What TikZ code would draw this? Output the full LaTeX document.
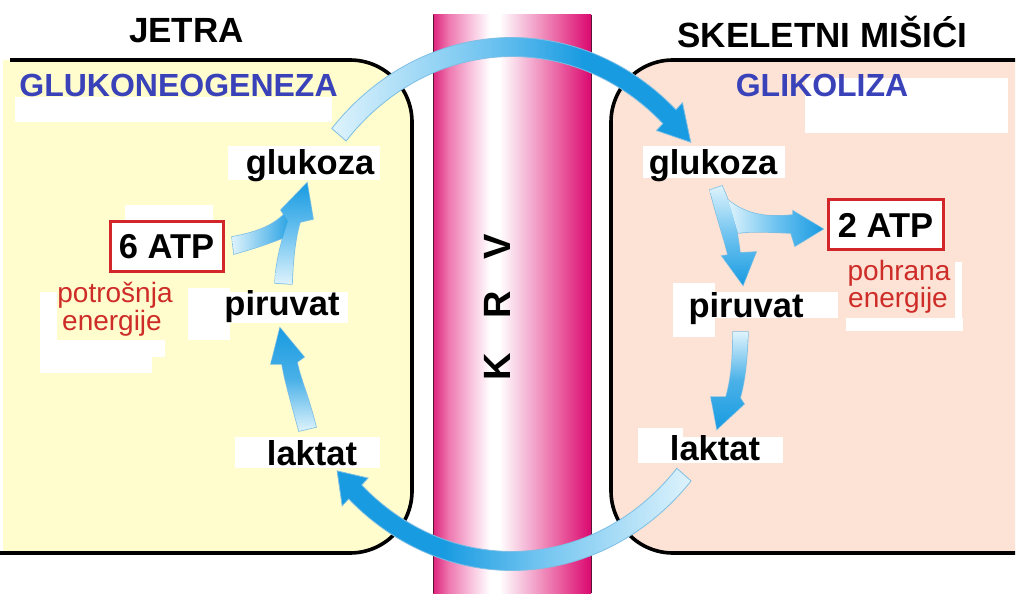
\documentclass[tikz,border=0pt]{standalone}
\usepackage{fontspec}
\setmainfont{Liberation Sans}
\usepackage{graphicx}
\definecolor{liveryel}{RGB}{255,252,206}
\definecolor{musclepink}{RGB}{252,227,213}
\definecolor{procblue}{RGB}{58,66,186}
\definecolor{notered}{RGB}{206,44,40}
\definecolor{boxred}{RGB}{210,38,42}
\definecolor{vA}{RGB}{222,35,125}
\definecolor{vB}{RGB}{238,120,175}
\definecolor{vC}{RGB}{250,205,228}
\definecolor{vD}{RGB}{244,180,212}
\definecolor{vE}{RGB}{234,95,160}
\definecolor{vF}{RGB}{218,8,112}
\definecolor{vEdge}{RGB}{90,20,50}
\definecolor{aD}{RGB}{25,155,225}
\definecolor{aM}{RGB}{110,195,240}
\definecolor{aL}{RGB}{222,243,252}
\definecolor{aEdge}{RGB}{125,190,228}
\pgfdeclarehorizontalshading{vessel}{100bp}{color(0bp)=(vA); color(25bp)=(vA); color(30bp)=(vB); color(38bp)=(vC); color(43bp)=(white); color(46bp)=(white); color(55bp)=(vD); color(65bp)=(vE); color(75bp)=(vF); color(100bp)=(vF)}
\pgfdeclarehorizontalshading{arcLR}{100bp}{color(0bp)=(aL); color(25bp)=(aL); color(47bp)=(aM); color(60bp)=(aD); color(100bp)=(aD)}
\pgfdeclarehorizontalshading{arcRL}{100bp}{color(0bp)=(aD); color(40bp)=(aD); color(53bp)=(aM); color(75bp)=(aL); color(100bp)=(aL)}
\begin{document}
\begin{tikzpicture}[x=1pt,y=-1pt,
  border/.style={draw=black, line width=3.6pt},
  vesseledge/.style={draw=vEdge, line width=1pt},
  patch/.style={fill=white},
  title/.style={inner sep=0pt, anchor=base, font=\bfseries\fontsize{35}{40}\selectfont},
  proc/.style={inner sep=0pt, anchor=base, text=procblue, font=\bfseries\fontsize{32}{38}\selectfont},
  mol/.style={inner sep=0pt, anchor=base, font=\bfseries\fontsize{34.5}{40}\selectfont},
  note/.style={inner sep=0pt, anchor=base, text=notered, font=\fontsize{28}{30}\selectfont},
  atpbox/.style={draw=boxred, line width=3pt, fill=white, inner sep=0pt, font=\bfseries\fontsize{34.5}{40}\selectfont},
  krv/.style={inner sep=0pt, rotate=90, font=\bfseries\fontsize{38}{40}\selectfont},
  edge/.style={draw=aEdge, line width=1.4pt},
  bigedge/.style={draw=aEdge, line width=0.8pt},
  pAone/.style={insert path={(316,427) .. controls (309,398) and (300,378) .. (297,362) -- (304,357) -- (280,328) -- (271,364) -- (282,364) .. controls (285,382) and (292,405) .. (299,431) -- cycle}},
  pAtwo/.style={insert path={(292,284) .. controls (293,255) and (296,235) .. (300,222) -- (313,219) -- (307,183) -- (281,210) -- (288,221) .. controls (282,240) and (276,260) .. (275,283) -- cycle}},
  pAbr/.style={insert path={(232,237) .. controls (258,232) and (278,225) .. (292,205) -- (295,235) -- (280,239) .. controls (262,246) and (248,250) .. (234,254) -- cycle}},
  pBone/.style={insert path={(722,186) .. controls (731,205) and (737,228) .. (740,253) -- (756,252) -- (743,285) -- (722,256) -- (728,255) .. controls (724,238) and (716,215) .. (710,190) -- cycle}},
  pBbr/.style={insert path={(728,200) .. controls (745,214) and (765,218) .. (793,215) -- (793,211) -- (823,229) -- (795,246) -- (791,233) .. controls (768,232) and (752,231) .. (738,233) -- cycle}},
  pBthree/.style={insert path={(748,332) .. controls (747,360) and (745,380) .. (740,398) -- (744,404) -- (717,429) -- (711,397) -- (726,397) .. controls (731,380) and (733,360) .. (733,332) -- cycle}}
]
\useasboundingbox (0,0) rectangle (1024,609);
\fill[white] (0,0) rectangle (1024,609);
% liver box
\fill[liveryel] (3,60) -- (350,60) .. controls (384.2,60) and (412,87.8) .. (412,122) -- (412,491) .. controls (412,525.2) and (384.2,553) .. (350,553) -- (3,553) -- cycle;
\draw[border] (10,60) -- (350,60) .. controls (384.2,60) and (412,87.8) .. (412,122) -- (412,491) .. controls (412,525.2) and (384.2,553) .. (350,553) -- (0,553);
% muscle box
\fill[musclepink] (1015,60) -- (673,60) .. controls (638.8,60) and (611,87.8) .. (611,122) -- (611,491) .. controls (611,525.2) and (638.8,553) .. (673,553) -- (1015,553) -- cycle;
\draw[border] (1015,60) -- (673,60) .. controls (638.8,60) and (611,87.8) .. (611,122) -- (611,491) .. controls (611,525.2) and (638.8,553) .. (673,553) -- (1015,553);
% blood vessel
\shade[shading=vessel] (433,15) rectangle (591,593);
\draw[vesseledge] (433,15) -- (433,593) (591,15) -- (591,593);
\node[krv] (k) at (497,367) {K};
\node[krv] (r) at (497,305) {R};
\node[krv] (v) at (497,247) {V};
% white patches
\fill[patch] (15,97) rectangle (332,122);
\fill[patch] (228,146) rectangle (380,180);
\fill[patch] (125,205) rectangle (213,225);
\fill[patch] (40,292) rectangle (57,345);
\fill[patch] (40,340) rectangle (165,357);
\fill[patch] (40,357) rectangle (152,373);
\fill[patch] (188,288) rectangle (230,340);
\fill[patch] (225,292) rectangle (348,323);
\fill[patch] (235,437) rectangle (380,468);
\fill[patch] (805,78) rectangle (1008,133);
\fill[patch] (643,146) rectangle (785,178);
\fill[patch] (673,283) rectangle (715,337);
\fill[patch] (673,292) rectangle (838,318);
\fill[patch] (955,262) rectangle (962,320);
\fill[patch] (846,318) rectangle (963,331);
\fill[patch] (638,428) rectangle (683,463);
\fill[patch] (683,437) rectangle (783,463);
% titles
\node[title] (jetra) at (186.5,43) {JETRA};
\node[title] (misici) at (822.5,48) {SKELETNI MIŠIĆI};
\node[proc] (gng) at (178.5,97) {GLUKONEOGENEZA};
\node[proc] (gly) at (822,97) {GLIKOLIZA};
% molecules
\node[mol] (glL) at (310,175) {glukoza};
\node[mol] (piL) at (282,316) {piruvat};
\node[mol] (laL) at (312,465) {laktat};
\node[mol] (glR) at (713,175) {glukoza};
\node[mol] (piR) at (746,317) {piruvat};
\node[mol] (laR) at (715,460) {laktat};
\node[atpbox, minimum width=113pt, minimum height=50pt] (atp6) at (166.5,247) {6 ATP};
\node[atpbox, minimum width=115pt, minimum height=50pt] (atp2) at (885.5,225) {2 ATP};
\node[note] (potr) at (115,302) {potrošnja};
\node[note] (enL) at (112,330) {energije};
\node[note] (pohr) at (899,280) {pohrana};
\node[note] (enR) at (898,308) {energije};
% small arrows: outlines first, then fills
\draw[edge] [pAbr];
\draw[edge] [pAtwo];
\draw[edge] [pAone];
\draw[edge] [pBbr];
\draw[edge] [pBone];
\draw[edge] [pBthree];
\shade[left color=aL, right color=aD] [pAbr];
\shade[top color=aD, bottom color=aL, middle color=aM] [pAtwo];
\shade[top color=aD, bottom color=aL, middle color=aD!75!aL] [pAone];
\shade[left color=aL, right color=aD, middle color=aM] [pBbr];
\shade[top color=aL, bottom color=aD, middle color=aM] [pBone];
\shade[top color=aL, bottom color=aD, middle color=aD!75!aL] [pBthree];
% big arcs through the blood
\shadedraw[shading=arcLR, bigedge]
  plot[domain=-138.8:-46.8, samples=60] ({512+239.5*cos(\x)},{304+266.5*sin(\x)})
  -- ({512+249*cos(-46.8)},{304+276*sin(-46.8)})
  -- ({512+230*cos(-39)},{304+257*sin(-39)})
  -- ({512+211*cos(-46.8)},{304+238*sin(-46.8)})
  -- plot[domain=-46.8:-138.8, samples=60] ({512+220.5*cos(\x)},{304+247.5*sin(\x)})
  -- cycle;
\shadedraw[shading=arcRL, bigedge]
  plot[domain=41.6:133, samples=60] ({512+239.5*cos(\x)},{304+266.5*sin(\x)})
  -- ({512+249*cos(133)},{304+276*sin(133)})
  -- ({512+230*cos(139.5)},{304+257*sin(139.5)})
  -- ({512+211*cos(133)},{304+238*sin(133)})
  -- plot[domain=133:41.6, samples=60] ({512+220.5*cos(\x)},{304+247.5*sin(\x)})
  -- cycle;
\end{tikzpicture}
\end{document}
